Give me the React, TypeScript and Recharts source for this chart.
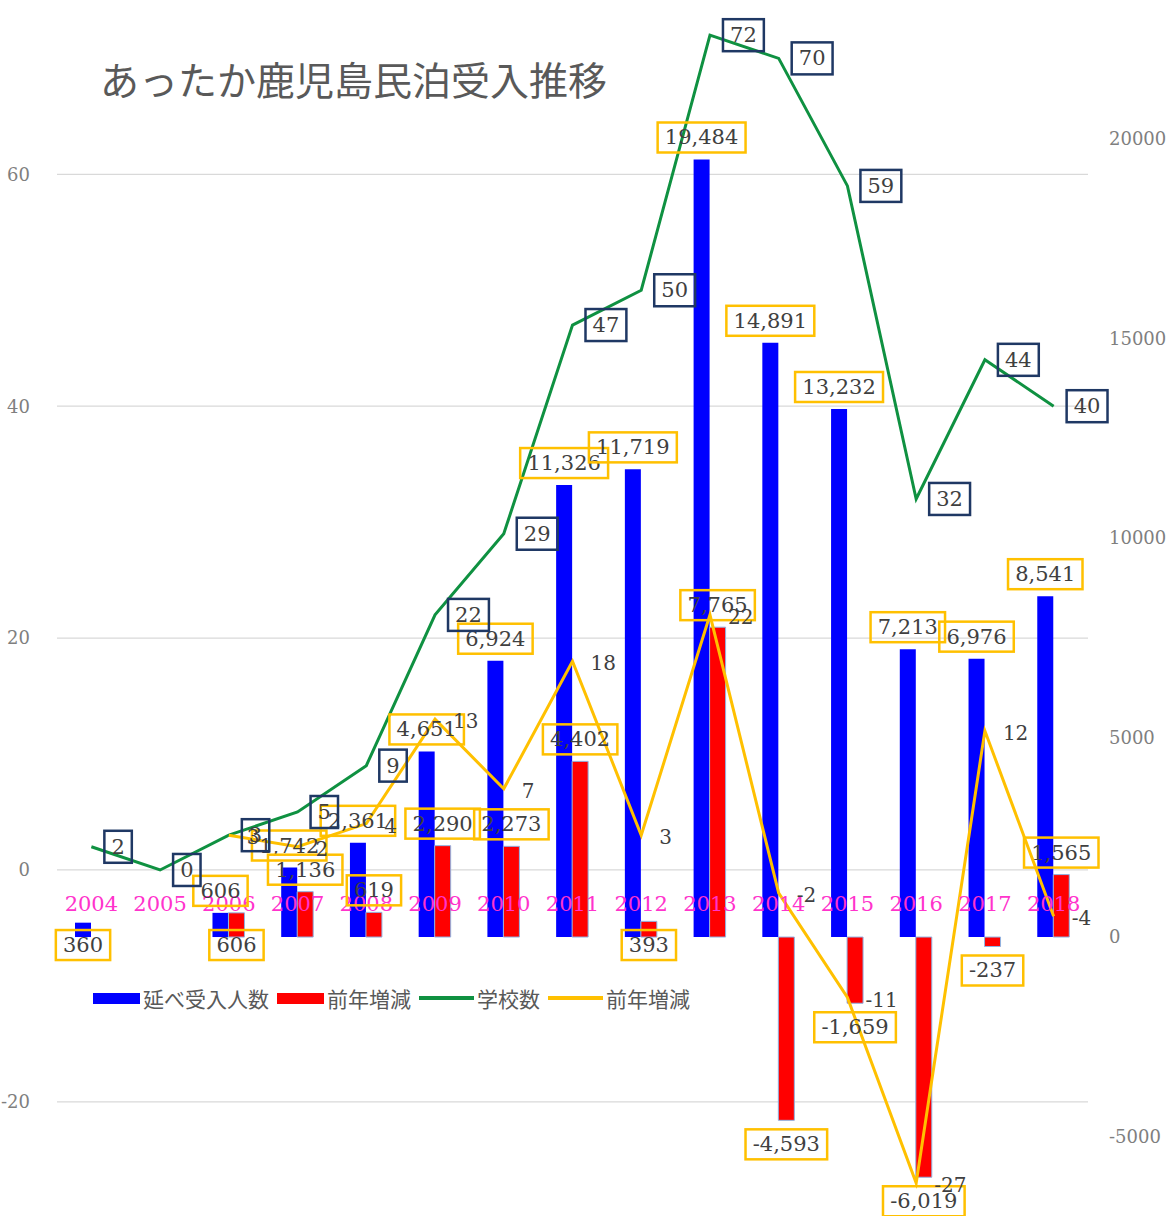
import React from "react";
import {
  ComposedChart,
  Bar,
  Line,
  XAxis,
  YAxis,
  CartesianGrid,
  LabelList,
} from "recharts";

// 年度
const years = [
  "2004", "2005", "2006", "2007", "2008", "2009", "2010", "2011",
  "2012", "2013", "2014", "2015", "2016", "2017", "2018",
];
// 延べ受入人数
const visitors = [
  360, 0, 606, 1742, 2361, 4651, 6924, 11326, 11719, 19484, 14891, 13232,
  7213, 6976, 8541,
];
// 前年増減（人数）
const visitorChange = [
  null, null, 606, 1136, 619, 2290, 2273, 4402, 393, 7765, -4593, -1659,
  -6019, -237, 1565,
];
// 学校数
const schools = [2, 0, 3, 5, 9, 22, 29, 47, 50, 72, 70, 59, 32, 44, 40];
// 前年増減（学校数）
const schoolChange = [
  null, null, 3, 2, 4, 13, 7, 18, 3, 22, -2, -11, -27, 12, -4,
];

const seriesNames = ["延べ受入人数", "前年増減", "学校数", "前年増減"];
const leftTicks = [-20, 0, 20, 40, 60];
const rightTicks = [-5000, 0, 5000, 10000, 15000, 20000];
const leftDomain = [-29.5, 74];
const rightDomain = [-6890, 23180];

const data = years.map((year, i) => ({
  year,
  visitors: visitors[i],
  visitorChange: visitorChange[i],
  schools: schools[i],
  schoolChange: schoolChange[i],
}));

const NUM_FONT = "'DejaVu Serif', serif";
const JP_FONT = "'Noto Sans CJK JP', sans-serif";
const TEXT = "#404040";

const textWidth = (s: string, fs: number) =>
  [...s].reduce(
    (w, c) => w + (c === "," ? 0.32 : c === "-" ? 0.34 : 0.64) * fs,
    0
  );

const getBox = (p: any) => {
  const vb = p.viewBox && p.viewBox.x !== undefined ? p.viewBox : p;
  return {
    x: Number(vb.x),
    y: Number(vb.y),
    w: Number(vb.width || 0),
    h: Number(vb.height || 0),
  };
};

// 棒グラフのラベル（黄色枠）。小さい値は軸の下に置く
const makeBarTag = (smallLimit: number) => (props: any) => {
  const { value } = props;
  if (value === null || value === undefined) return null;
  const { x, y, w, h } = getBox(props);
  if (isNaN(x) || isNaN(y)) return null;
  const top = Math.min(y, y + h);
  const bottom = Math.max(y, y + h);
  const cx = x + w / 2;
  let cy = value >= 0 ? top - 22 : bottom + 24;
  if (value > 0 && value < smallLimit) cy = bottom + 8;
  const text = Number(value).toLocaleString("en-US");
  const bw = textWidth(text, 21) + 14;
  return (
    <g>
      <rect
        x={cx - bw / 2}
        y={cy - 15}
        width={bw}
        height={30}
        fill="none"
        stroke="#FFC000"
        strokeWidth={2.5}
      />
      <text
        x={cx}
        y={cy}
        textAnchor="middle"
        dominantBaseline="central"
        fontFamily={NUM_FONT}
        fontSize={21}
        fill={TEXT}
      >
        {text}
      </text>
    </g>
  );
};
const VisitorTag = makeBarTag(500);
const VisitorChangeTag = makeBarTag(610);

// 学校数のラベル（紺色枠）
const SchoolTag = (props: any) => {
  const { value } = props;
  if (value === null || value === undefined) return null;
  const { x, y } = getBox(props);
  if (isNaN(x) || isNaN(y)) return null;
  const text = String(value);
  const bw = textWidth(text, 21) + 14;
  return (
    <g>
      <rect
        x={x + 13}
        y={y - 16}
        width={bw}
        height={32}
        fill="none"
        stroke="#1F3864"
        strokeWidth={2.5}
      />
      <text
        x={x + 13 + bw / 2}
        y={y}
        textAnchor="middle"
        dominantBaseline="central"
        fontFamily={NUM_FONT}
        fontSize={21}
        fill={TEXT}
      >
        {text}
      </text>
    </g>
  );
};

// 学校数の前年増減ラベル（枠なし）
const ChangeTag = (props: any) => {
  const { value } = props;
  if (value === null || value === undefined) return null;
  const { x, y } = getBox(props);
  if (isNaN(x) || isNaN(y)) return null;
  return (
    <text
      x={x + 18}
      y={y + 2}
      textAnchor="start"
      dominantBaseline="central"
      fontFamily={NUM_FONT}
      fontSize={20}
      fill={TEXT}
    >
      {value}
    </text>
  );
};

const YearTick = ({ x, y, payload }: any) => (
  <text
    x={x}
    y={y - 308}
    textAnchor="middle"
    dominantBaseline="central"
    fill="#FF33CC"
    fontSize={21}
    fontFamily={NUM_FONT}
  >
    {payload.value}
  </text>
);

// 左軸の目盛り位置にだけ横線を引く
const gridRows = ({ offset }: any) => {
  const [lo, hi] = leftDomain;
  return leftTicks.map(
    (t) => offset.top + ((hi - t) / (hi - lo)) * offset.height
  );
};

const legendItems = [
  { name: seriesNames[0], color: "#0000FF", type: "bar" },
  { name: seriesNames[1], color: "#FF0000", type: "bar" },
  { name: seriesNames[2], color: "#0F9141", type: "line" },
  { name: seriesNames[3], color: "#FFC000", type: "line" },
];

export default function App() {
  return (
    <div
      style={{
        position: "absolute",
        left: 0,
        top: 0,
        width: 1172,
        height: 1216,
        background: "#fff",
      }}
    >
      <ComposedChart
        width={1172}
        height={1216}
        data={data}
        margin={{ top: 12, right: 0, bottom: 3, left: 0 }}
        barGap={0}
      >
        <CartesianGrid
          yAxisId="left"
          vertical={false}
          stroke="#d9d9d9"
          strokeWidth={1.2}
          horizontalCoordinatesGenerator={gridRows}
        />
        <XAxis
          dataKey="year"
          interval={0}
          height={1}
          tickLine={false}
          axisLine={false}
          tickSize={0}
          tickMargin={0}
          tick={<YearTick />}
        />
        <YAxis
          yAxisId="left"
          width={57}
          domain={leftDomain}
          ticks={leftTicks}
          allowDataOverflow
          tickLine={false}
          axisLine={false}
          tickSize={0}
          tickMargin={27}
          tick={{ fill: "#7f7f7f", fontSize: 18, fontFamily: NUM_FONT }}
        />
        <YAxis
          yAxisId="right"
          orientation="right"
          width={84}
          domain={rightDomain}
          ticks={rightTicks}
          allowDataOverflow
          tickLine={false}
          axisLine={false}
          tickSize={0}
          tickMargin={21}
          tick={{ fill: "#7f7f7f", fontSize: 18, fontFamily: NUM_FONT }}
        />
        <Bar
          yAxisId="right"
          dataKey="visitors"
          name={seriesNames[0]}
          fill="#0000FF"
          barSize={16}
          isAnimationActive={false}
        >
          <LabelList dataKey="visitors" content={<VisitorTag />} />
        </Bar>
        <Bar
          yAxisId="right"
          dataKey="visitorChange"
          name={seriesNames[1]}
          fill="#FF0000"
          stroke="#8FB4E3"
          strokeWidth={1}
          barSize={16}
          isAnimationActive={false}
        >
          <LabelList dataKey="visitorChange" content={<VisitorChangeTag />} />
        </Bar>
        <Line
          yAxisId="left"
          type="linear"
          dataKey="schools"
          name={seriesNames[2]}
          stroke="#0F9141"
          strokeWidth={3}
          dot={false}
          isAnimationActive={false}
        >
          <LabelList dataKey="schools" content={<SchoolTag />} />
        </Line>
        <Line
          yAxisId="left"
          type="linear"
          dataKey="schoolChange"
          name={seriesNames[3]}
          stroke="#FFC000"
          strokeWidth={3}
          dot={false}
          isAnimationActive={false}
        >
          <LabelList dataKey="schoolChange" content={<ChangeTag />} />
        </Line>
      </ComposedChart>

      <div
        style={{
          position: "absolute",
          left: 100,
          top: 50,
          fontFamily: JP_FONT,
          fontSize: 39,
          color: "#595959",
          whiteSpace: "nowrap",
        }}
      >
        あったか鹿児島民泊受入推移
      </div>

      <div
        style={{
          position: "absolute",
          left: 93,
          top: 983,
          display: "flex",
          alignItems: "center",
          fontFamily: JP_FONT,
          fontSize: 21,
          color: "#595959",
          whiteSpace: "nowrap",
        }}
      >
        {legendItems.map((item, i) => (
          <div
            key={i}
            style={{ display: "flex", alignItems: "center", marginRight: 8 }}
          >
            <span
              style={{
                display: "inline-block",
                width: item.type === "bar" ? 47 : 55,
                height: item.type === "bar" ? 11 : 4,
                background: item.color,
                marginRight: 3,
              }}
            />
            <span>{item.name}</span>
          </div>
        ))}
      </div>
    </div>
  );
}
